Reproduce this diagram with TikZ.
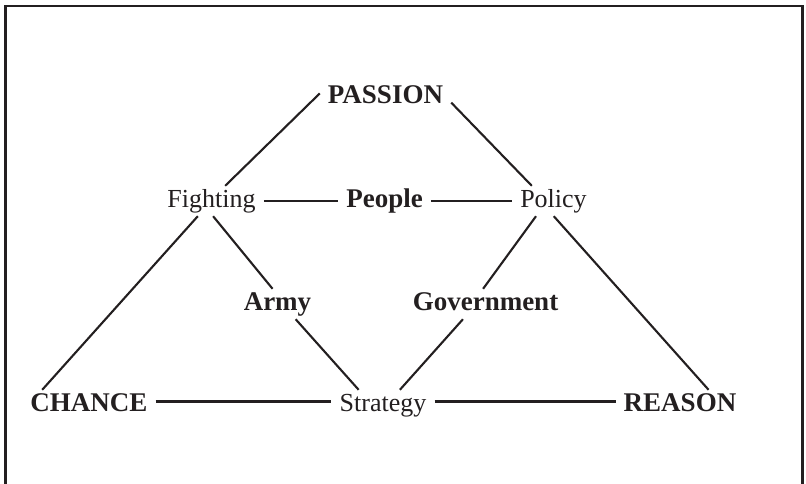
\documentclass[tikz,border=0pt]{standalone}
\usepackage{fontspec}
\setmainfont{Liberation Serif}
\usepackage{xcolor}
\definecolor{inkdark}{HTML}{231F20}
\usepackage{tikz}
\usetikzlibrary{positioning,calc}

\begin{document}
\begin{tikzpicture}[x=1pt, y=1pt,
    term/.style={font=\fontsize{26}{30}\selectfont, text=inkdark, anchor=base,
      text height=17pt, text depth=5pt, inner xsep=8pt, inner ysep=4pt},
    pole/.style={term, font=\fontsize{27}{30}\selectfont\bfseries},
    link/.style={inkdark, line width=2.1pt}]
    \useasboundingbox (0,0) rectangle (806,483);
    \clip (0,0) rectangle (806,483);
    % frame, open at the foot of the page
    \draw[inkdark, line width=2.8pt] (5.5,-10) rectangle (802.5,477);

    \node[pole] (passion) at (385.5,379) {PASSION};
    \node[term] (fighting) at (211.5,276) {Fighting};
    \node[pole] (people) at (384.5,276) {People};
    \node[term] (policy) at (553.5,276) {Policy};
    \node[pole] (army) at (277.5,173) {Army};
    \node[pole] (government) at (485.5,173) {Government};
    \node[pole] (chance) at (89,72) {CHANCE};
    \node[term] (strategy) at (383,72) {Strategy};
    \node[pole] (reason) at (680,72) {REASON};

    % outer triangle
    \draw[link] (passion.176) -- (fighting.48);
    \draw[link] (passion.-4) -- (policy.145);
    \draw[link] (fighting.-132) -- (chance.162);
    \draw[link] (policy.-89) -- (reason.28);
    \draw[link] (chance.3) -- (chance.3 -| strategy.west);
    \draw[link] (chance.3 -| strategy.east) -- (chance.3 -| reason.west);
    % inner triangle
    \draw[link] (fighting.east) -- (people.west);
    \draw[link] (people.east) -- (policy.west);
    \draw[link] (fighting.-84) -- (army.108);
    \draw[link] (army.-40) -- (strategy.148);
    \draw[link] (policy.-139) -- (government.99);
    \draw[link] (government.-146) -- (strategy.42);
\end{tikzpicture}
\end{document}
